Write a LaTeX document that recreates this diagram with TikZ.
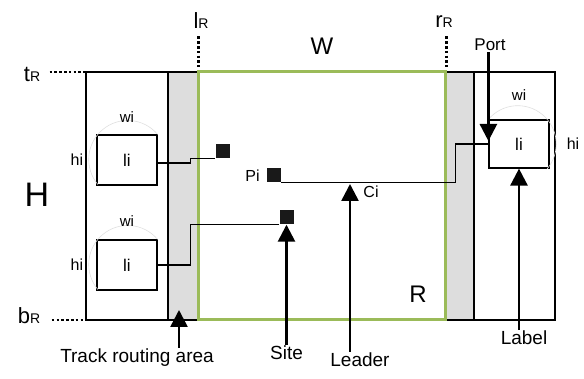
\documentclass[tikz,border=0pt]{standalone}
\usepackage{fontspec}
\setmainfont{Liberation Sans}
\usetikzlibrary{positioning, arrows.meta, calc}
\definecolor{regiongreen}{RGB}{155,187,89}
\definecolor{trackgray}{RGB}{221,221,221}
\newcommand{\fsz}[1]{\fontsize{#1}{#1}\selectfont}
\newcommand{\bndlbl}[2]{{\fsz{22}#1}{\fsz{14}#2}}

\begin{document}
\begin{tikzpicture}[x=1pt, y=-1pt,
	% --- Styles ---
	labelbox/.style={
		rectangle, draw, fill=white, line width=1.2pt,
		minimum width=60pt, minimum height=50pt, inner sep=0pt, font=\fsz{17}
	},
	siteblock/.style={
		rectangle, fill=black!90, minimum size=14pt, inner sep=0pt
	},
	wire/.style={
		draw, line width=1.1pt
	},
	pointer/.style={
		draw, line width=2.6pt, -{Triangle[length=17pt, width=17pt]}
	},
	dots/.style={
		draw, line width=2.6pt, dash pattern=on 2.6pt off 2.2pt
	},
	small/.style={
		font=\fsz{15}, inner sep=0pt
	},
	caption/.style={
		font=\fsz{19}, inner sep=1pt
	},
	arcline/.style={
		draw, gray!25, line width=0.6pt
	}
	]
	\useasboundingbox (0,0) rectangle (584,379);
	
	% --- 1. Frame and track routing areas ---
	\coordinate (frame_tl) at (86,72);
	\coordinate (frame_br) at (555,320);
	\fill[trackgray] (168,72) rectangle (198,320);
	\fill[trackgray] (445,72) rectangle (474,320);
	\draw[line width=2.6pt] (frame_tl) rectangle (frame_br);
	\draw[line width=2.6pt] (168,72) -- (168,320);
	\draw[line width=2.6pt] (474,72) -- (474,320);
	
	% --- 2. Region R ---
	\node[draw=regiongreen, line width=3pt, minimum width=247pt, minimum height=248pt, inner sep=0pt] (reg) at (321.5,196) {};
	\node[font=\fsz{24}] (r_lbl) at (418,294) {R};
	
	% --- 3. Boundary labels ---
	\node[anchor=base] (t_r) at (32,82) {\bndlbl{t}{R}};
	\node[anchor=base] (b_r) at (29,324) {\bndlbl{b}{R}};
	\node[anchor=base] (l_r) at (201,29) {\bndlbl{l}{R}};
	\node[anchor=base] (r_r) at (444,28) {\bndlbl{r}{R}};
	\node[font=\fsz{24}] (w_lbl) at (322,46) {W};
	\node[font=\fsz{34}] (h_lbl) at (37,195) {H};
	
	\draw[dots] ($(t_r.east |- frame_tl)+(6,0)$) -- (frame_tl);
	\draw[dots] ($(b_r.east |- frame_br)+(8,0)$) -- (frame_br -| frame_tl);
	\draw[dots] ($(reg.north west)+(2,-34)$) -- ($(reg.north west)+(2,-3)$);
	\draw[dots] ($(reg.north east)+(0,-34)$) -- ($(reg.north east)+(0,-3)$);
	
	% --- 4. Labels ---
	\node[labelbox] (l1) at (127,160) {li};
	\node[labelbox] (l2) at (127,265) {li};
	\node[labelbox, minimum height=48pt] (l3) at (519,144) {li};
	
	\draw[arcline] (l1.north east) arc[start angle=-40, end angle=-220, radius=39];
	\draw[arcline] (l2.north east) arc[start angle=-40, end angle=-220, radius=39];
	\draw[arcline] (l3.north west) arc[start angle=-140, end angle=40, radius=38.4];
	
	\node[small, above=12pt of l1] (w1) {wi};
	\node[small, above=13pt of l2] (w2) {wi};
	\node[small, above=19pt of l3] (w3) {wi};
	\node[small, font=\fsz{16}, left=13pt of l1] (h1) {hi};
	\node[small, font=\fsz{16}, left=13pt of l2] (h2) {hi};
	\node[small, font=\fsz{16}, right=17pt of l3] (h3) {hi};
	
	% --- 5. Sites and leaders ---
	\node[siteblock] (sq1) at (222.5,151) {};
	\node[siteblock] (pi_sq) at (274,175.5) {};
	\node[siteblock] (site_sq) at (286.5,217.5) {};
	\node[font=\fsz{16}, inner sep=0pt, left=7pt of pi_sq] (pi_lbl) {Pi};
	
	\draw[wire] ($(l1.east)+(0,3)$) -- ++(33,0) |- (sq1.south west);
	\draw[wire] (l2.east) -- ++(33,0) |- (site_sq.south west);
	\draw[wire] (pi_sq.south east) -- ++(174,0) |- (l3.west);
	
	\coordinate (ci) at (350,184);
	\node[font=\fsz{16}, inner sep=0pt] (ci_lbl) at (371,192) {Ci};
	
	% --- 6. Captions and pointers ---
	\node[caption] (trk_lbl) at (137,358) {Track routing area};
	\node[caption] (site_lbl) at (286.5,353) {Site};
	\node[caption] (leader_lbl) at (360,360) {Leader};
	\node[caption] (label_lbl) at (524,338) {Label};
	\node[font=\fsz{17}, inner sep=1pt] (port_lbl) at (490,45) {Port};
	
	\coordinate (trk_tip) at (179,310);
	\draw[pointer] (trk_lbl.north -| trk_tip) -- (trk_tip);
	\draw[pointer] (site_lbl) -- (site_sq);
	\draw[pointer] (leader_lbl.north -| ci) -- (ci);
	\draw[pointer] (label_lbl.north -| l3.south) -- (l3.south);
	\draw[pointer] (port_lbl.south -| l3.west) -- ($(l3.west)+(0,-3)$);
	
\end{tikzpicture}
\end{document}
